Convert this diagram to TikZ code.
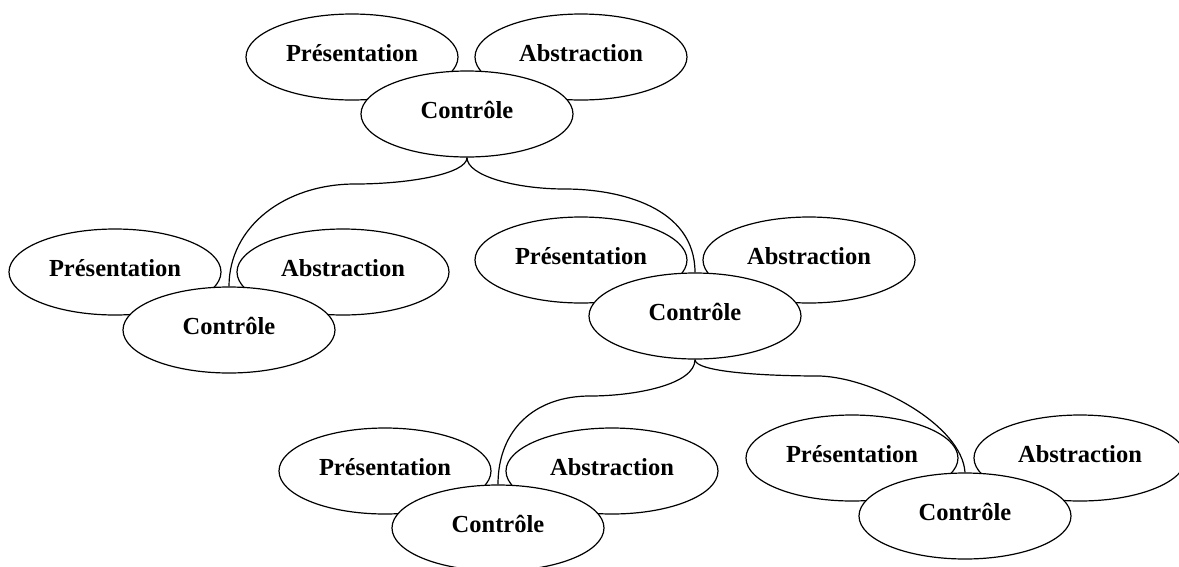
\documentclass[tikz,border=0pt]{standalone}
\usepackage{fontspec}
\setmainfont{Liberation Serif}
\usetikzlibrary{shapes.geometric}
\tikzset{
  pac/.style={ellipse, draw, line width=1.2pt, fill=white, minimum width=212pt, minimum height=86pt, inner sep=0pt,
    font=\bfseries\fontsize{24.5}{28}\selectfont, text height=16pt, text depth=8pt},
  conn/.style={draw, line width=1.2pt}
}
\begin{document}
\begin{tikzpicture}[x=1pt,y=-1pt]
\useasboundingbox (0,0) rectangle (1179,566);
% top group
\node[pac] (tP) at (352,57) {Présentation};
\node[pac] (tA) at (581,57) {Abstraction};
\node[pac] (tC) at (467,114) {Contrôle};
% left group
\node[pac] (lP) at (115,272) {Présentation};
\node[pac] (lA) at (343,272) {Abstraction};
\node[pac] (lC) at (229,330) {Contrôle};
% middle group
\node[pac] (mP) at (581,260) {Présentation};
\node[pac] (mA) at (809,260) {Abstraction};
\node[pac] (mC) at (695,316) {Contrôle};
% bottom-left group
\node[pac] (bP) at (385,471) {Présentation};
\node[pac] (bA) at (612,471) {Abstraction};
\node[pac] (bC) at (498,528) {Contrôle};
% bottom-right group
\node[pac] (rP) at (852,458) {Présentation};
\node[pac] (rA) at (1080,458) {Abstraction};
\node[pac] (rC) at (965,516) {Contrôle};
% connector way points
\coordinate (m1) at (355,184);
\coordinate (m2) at (565,189);
\coordinate (m3) at (590,396);
\coordinate (m4) at (820,376);
% connectors
\draw[conn] (tC.south) .. controls +(0,16) and +(55,0) .. (m1) .. controls +(-70,0) and +(0,-60) .. (lC.north);
\draw[conn] (tC.south) .. controls +(0,18) and +(-50,0) .. (m2) .. controls +(55,0) and +(0,-65) .. (mC.north);
\draw[conn] (mC.south) .. controls +(0,25) and +(45,0) .. (m3) .. controls +(-55,0) and +(0,-55) .. (bC.north);
\draw[conn] (mC.south) .. controls +(0,12) and +(-60,0) .. (m4) .. controls +(55,2) and +(-3,-47) .. (rC.north);
\end{tikzpicture}
\end{document}
